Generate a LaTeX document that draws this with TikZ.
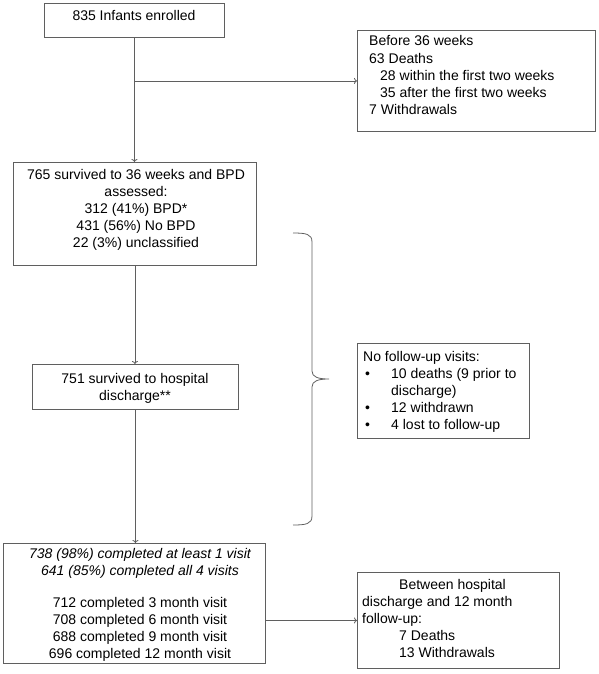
\documentclass[tikz,border=0pt]{standalone}
\usepackage{fontspec}
\setmainfont{Liberation Sans}
\usetikzlibrary{arrows.meta}
\definecolor{linegray}{HTML}{5F5F5F}
\begin{document}
\begin{tikzpicture}[x=1pt,y=-1pt,
  boxs/.style={draw=linegray, line width=0.9pt, inner sep=0pt, anchor=north west},
  txt/.style={inner sep=0pt, font=\fontsize{14}{17}\selectfont},
  arr/.style={draw=linegray, line width=0.8pt, -{To[length=3pt,width=6pt]}},
  brace/.style={draw=linegray, line width=0.8pt}]
\useasboundingbox (0,0) rectangle (599,674);
% boxes
\node[boxs, minimum width=180pt, minimum height=34pt] (b1) at (44,3) {};
\node[boxs, minimum width=238pt, minimum height=101pt] (b2) at (357,30) {};
\node[boxs, minimum width=243pt, minimum height=103pt] (b3) at (13,162) {};
\node[boxs, minimum width=206pt, minimum height=45pt] (b4) at (32,364) {};
\node[boxs, minimum width=172pt, minimum height=95pt] (b5) at (357,343) {};
\node[boxs, minimum width=262pt, minimum height=120pt] (b6) at (3,543) {};
\node[boxs, minimum width=202pt, minimum height=96pt] (b7) at (357,572) {};
% texts (base anchor = baseline of the last line)
\node[txt, anchor=base] (t1) at (134,20.5) {835 Infants enrolled};
\node[txt, anchor=base west, align=left] (t2) at (369,114) {Before 36 weeks\\63 Deaths\\\hspace*{11pt}28 within the first two weeks\\\hspace*{11pt}35 after the first two weeks\\7 Withdrawals};
\node[txt, anchor=base, align=center] (t3) at (136,247) {765 survived to 36 weeks and BPD\\assessed:\\312 (41\%) BPD*\\431 (56\%) No BPD\\22 (3\%) unclassified};
\node[txt, anchor=base, align=center] (t4) at (135,400) {751 survived to hospital\\discharge**};
\node[txt, anchor=base west, align=left] (t5) at (363,429) {No follow-up visits:\\\hspace*{2pt}\makebox[26pt][l]{•}10 deaths (9 prior to\\\hspace*{28pt}discharge)\\\hspace*{2pt}\makebox[26pt][l]{•}12 withdrawn\\\hspace*{2pt}\makebox[26pt][l]{•}4 lost to follow-up};
\node[txt, anchor=base, align=center] (t6) at (140,658) {\itshape 738 (98\%) completed at least 1 visit\\\itshape 641 (85\%) completed all 4 visits\\[15pt]712 completed 3 month visit\\708 completed 6 month visit\\688 completed 9 month visit\\696 completed 12 month visit};
\node[txt, anchor=base west, align=left] (t7) at (362,657) {\hspace*{37pt}Between hospital\\discharge and 12 month\\follow-up:\\\hspace*{37pt}7 Deaths\\\hspace*{37pt}13 Withdrawals};
% connectors
\draw[arr] (b1.south) -- (b1.south |- b3.north);
\draw[arr] (b1.south |- b2.west) -- (b2.west);
\draw[arr] (b3.south) -- (b3.south |- b4.north);
\draw[arr] (b4.south) -- (b4.south |- b6.north);
\draw[arr] (b7.west -| b6.east) -- (b7.west);
% brace
\draw[brace] (293,233) .. controls (306,233) and (312,234) .. (312,242) -- (312,371)
  .. controls (312,377) and (318,379) .. (329,379)
  .. controls (318,379) and (312,381) .. (312,387) -- (312,516)
  .. controls (312,524) and (306,525) .. (293,525);
\end{tikzpicture}
\end{document}
